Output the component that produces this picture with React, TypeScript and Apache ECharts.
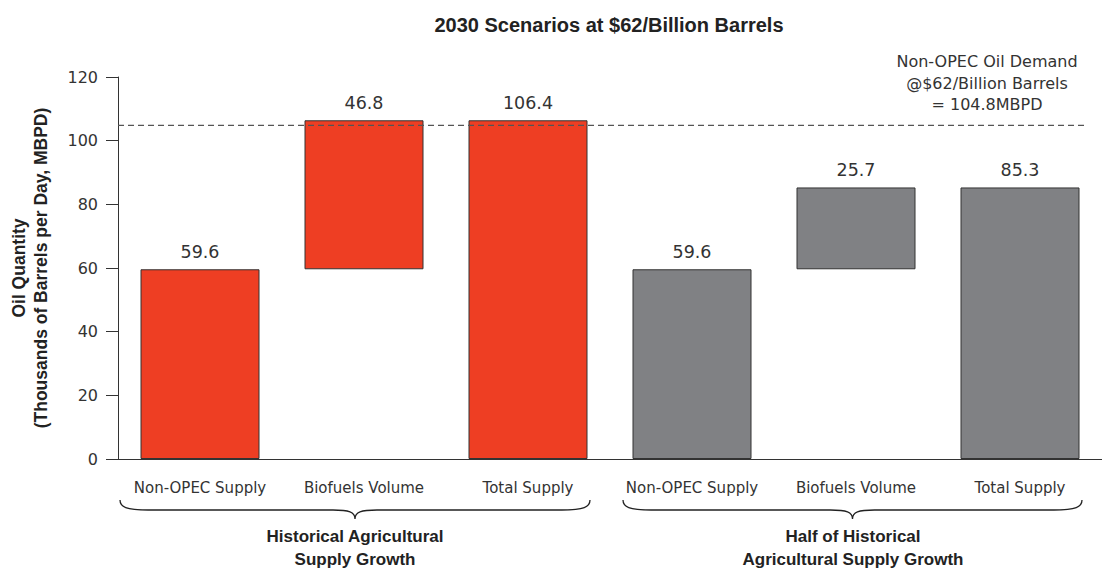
import React, { useEffect, useRef } from "react";
import * as echarts from "echarts";

const categories = [
  "Non-OPEC Supply",
  "Biofuels Volume",
  "Total Supply",
  "Non-OPEC Supply",
  "Biofuels Volume",
  "Total Supply",
];
const baseValues = [0, 59.6, 0, 0, 59.6, 0];
const barValues = [59.6, 46.8, 106.4, 59.6, 25.7, 85.3];
const groupOf = [0, 0, 0, 1, 1, 1];
const groupColors = ["#EE3E23", "#808184"];
const groupNames = [
  "Historical Agricultural\nSupply Growth",
  "Half of Historical\nAgricultural Supply Growth",
];
const demandValue = 104.8;
const demandLineX = [0, 5.9];
const demandNote = "Non-OPEC Oil Demand\n@$62/Billion Barrels\n= 104.8MBPD";
const titleText = "2030 Scenarios at $62/Billion Barrels";
const yName = "Oil Quantity\n(Thousands of Barrels per Day, MBPD)";

const REG = "DejaVu Sans";
const BOLD = "'Liberation Sans', Arial, sans-serif";

function braceD(w: number) {
  const h = w / 2;
  return `M0,0 C0,7 6,10 28,10 L${h - 22},10 C${h - 6},10 ${h},12 ${h},19 C${h},12 ${h + 6},10 ${h + 22},10 L${w - 28},10 C${w - 6},10 ${w},7 ${w},0`;
}

let registered = false;
function registerBraces() {
  if (registered) return;
  registered = true;
  echarts.graphic.registerShape("brace1", echarts.graphic.extendPath(braceD(470), {}) as any);
  echarts.graphic.registerShape("brace2", echarts.graphic.extendPath(braceD(459), {}) as any);
}

export default function App() {
  const ref = useRef<HTMLDivElement>(null);
  useEffect(() => {
    if (!ref.current) return;
    registerBraces();
    const chart = echarts.init(ref.current, undefined, { renderer: "svg" });
    const option: any = {
      animation: false,
      backgroundColor: "#ffffff",
      grid: { left: 117, right: 0, top: 77, bottom: 123 },
      xAxis: [
        {
          type: "category",
          data: categories,
          axisLine: { show: true, lineStyle: { color: "#333", width: 1 } },
          axisTick: { show: false },
          axisLabel: {
            margin: 21,
            fontSize: 15,
            color: "#333",
            fontFamily: REG,
            interval: 0,
          },
        },
        { type: "value", min: 0, max: 6, show: false },
      ],
      yAxis: {
        type: "value",
        min: 0,
        max: 120,
        interval: 20,
        axisLine: { show: true, lineStyle: { color: "#333", width: 1 } },
        axisTick: { show: true, length: 12, lineStyle: { color: "#333" } },
        splitLine: { show: false },
        axisLabel: { margin: 20, fontSize: 16, color: "#333", fontFamily: REG },
        name: yName,
        nameLocation: "middle",
        nameRotate: 90,
        nameGap: 66,
        nameTextStyle: {
          fontFamily: BOLD,
          fontWeight: "bold",
          fontSize: 17.5,
          color: "#222",
          lineHeight: 22,
          align: "center",
        },
      },
      series: [
        {
          type: "bar",
          stack: "w",
          data: baseValues,
          barWidth: 119,
          itemStyle: { color: "transparent", borderWidth: 0 },
          silent: true,
        },
        {
          type: "bar",
          stack: "w",
          barWidth: 119,
          data: barValues.map((v, i) => ({
            value: v,
            itemStyle: { color: groupColors[groupOf[i]] },
          })),
          itemStyle: { borderColor: "#333", borderWidth: 1 },
          label: {
            show: true,
            position: "top",
            distance: 8,
            fontSize: 17.5,
            color: "#333",
            fontFamily: REG,
          },
        },
        {
          type: "line",
          xAxisIndex: 1,
          data: demandLineX.map((x) => [x, demandValue]),
          symbol: "none",
          silent: true,
          lineStyle: { color: "#555", width: 1.2, type: [6, 4] },
          z: 5,
        },
      ],
      graphic: [
        {
          type: "text",
          x: 609,
          y: 25,
          style: {
            text: titleText,
            textAlign: "center",
            textVerticalAlign: "middle",
            font: `bold 20px ${BOLD}`,
            fill: "#222",
          },
        },
        {
          type: "text",
          x: 987,
          y: 83,
          style: {
            text: demandNote,
            textAlign: "center",
            textVerticalAlign: "middle",
            font: `16px ${REG}`,
            lineHeight: 21.5,
            fill: "#333",
          },
        },
        {
          type: "brace1",
          x: 120,
          y: 500,
          style: { stroke: "#222", fill: "none", lineWidth: 1.3 },
        },
        {
          type: "brace2",
          x: 623,
          y: 500,
          style: { stroke: "#222", fill: "none", lineWidth: 1.3 },
        },
        {
          type: "text",
          x: 355,
          y: 548,
          style: {
            text: groupNames[0],
            textAlign: "center",
            textVerticalAlign: "middle",
            font: `bold 17px ${BOLD}`,
            lineHeight: 23,
            fill: "#222",
          },
        },
        {
          type: "text",
          x: 853,
          y: 548,
          style: {
            text: groupNames[1],
            textAlign: "center",
            textVerticalAlign: "middle",
            font: `bold 17px ${BOLD}`,
            lineHeight: 23,
            fill: "#222",
          },
        },
      ],
    };
    chart.setOption(option);
    return () => chart.dispose();
  }, []);
  return (
    <div
      ref={ref}
      style={{ position: "absolute", left: 0, top: 0, width: 1102, height: 582 }}
    />
  );
}
